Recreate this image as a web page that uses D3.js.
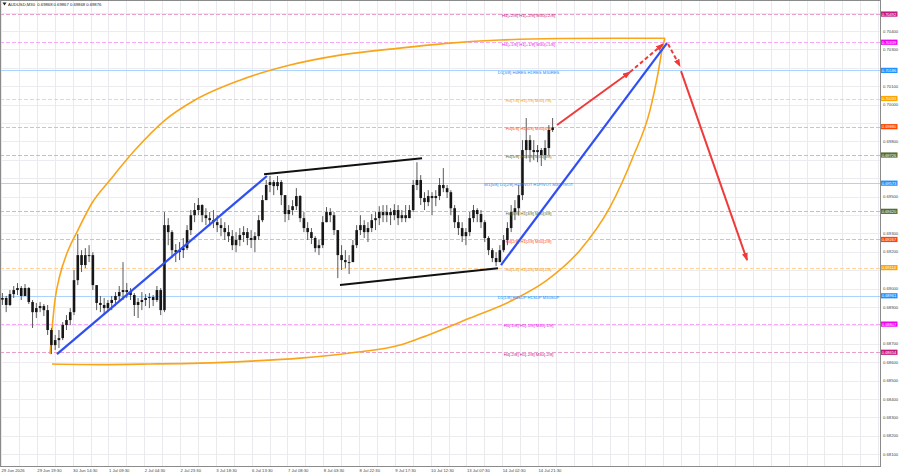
<!DOCTYPE html>
<html><head><meta charset="utf-8">
<script src="https://cdn.jsdelivr.net/npm/d3@7"></script>
<style>
html,body{margin:0;padding:0;background:#fff;}
svg{display:block;font-family:"Liberation Sans",Arial,sans-serif;}
</style></head><body>
<svg id="chart" width="900" height="474"></svg>
<script>
// ---------------- DATA ----------------
const chartTitle = "AUDUSD,M30  0.69868 0.69867 0.69868 0.69876";
const barsPerCandle = 4;          // each drawn candle groups 4 M30 bars
const firstOpen = 0.68940;
const candleHigh = [0.68976,0.68960,0.68992,0.69014,0.69030,0.69014,0.69025,0.69008,0.68938,0.68922,0.68927,0.68916,0.68911,0.68786,0.68748,0.68775,0.68818,0.68856,0.68894,0.69101,0.69296,0.69209,0.69220,0.69236,0.69198,0.69019,0.68960,0.68949,0.68938,0.68960,0.68981,0.69014,0.69144,0.69030,0.69003,0.68976,0.68949,0.68981,0.68970,0.68976,0.68965,0.69014,0.69003,0.69416,0.69383,0.69318,0.69242,0.69253,0.69275,0.69345,0.69427,0.69465,0.69492,0.69459,0.69437,0.69416,0.69427,0.69399,0.69383,0.69361,0.69345,0.69318,0.69307,0.69329,0.69339,0.69329,0.69318,0.69307,0.69399,0.69508,0.69590,0.69612,0.69590,0.69612,0.69590,0.69508,0.69454,0.69481,0.69546,0.69508,0.69416,0.69361,0.69329,0.69285,0.69264,0.69394,0.69443,0.69437,0.69416,0.69318,0.69236,0.69209,0.69182,0.69264,0.69345,0.69399,0.69372,0.69361,0.69405,0.69416,0.69448,0.69454,0.69454,0.69437,0.69459,0.69454,0.69427,0.69454,0.69454,0.69590,0.69687,0.69617,0.69524,0.69535,0.69524,0.69535,0.69601,0.69655,0.69563,0.69535,0.69454,0.69399,0.69361,0.69329,0.69416,0.69454,0.69437,0.69427,0.69372,0.69285,0.69220,0.69198,0.69236,0.69291,0.69361,0.69454,0.69481,0.69563,0.69807,0.69927,0.69834,0.69807,0.69780,0.69764,0.69807,0.69889,0.69927];
const candleLow = [0.68911,0.68872,0.68905,0.68949,0.68965,0.68938,0.68960,0.68916,0.68786,0.68840,0.68872,0.68851,0.68748,0.68644,0.68666,0.68677,0.68720,0.68775,0.68802,0.68856,0.69019,0.69090,0.69111,0.69144,0.68992,0.68883,0.68872,0.68856,0.68872,0.68883,0.68905,0.68927,0.68938,0.68949,0.68938,0.68851,0.68840,0.68883,0.68905,0.68894,0.68905,0.68927,0.68856,0.68872,0.69236,0.69166,0.69144,0.69155,0.69166,0.69209,0.69291,0.69361,0.69399,0.69361,0.69345,0.69339,0.69329,0.69307,0.69285,0.69264,0.69253,0.69209,0.69198,0.69231,0.69253,0.69236,0.69220,0.69198,0.69264,0.69361,0.69481,0.69524,0.69508,0.69535,0.69454,0.69361,0.69372,0.69399,0.69427,0.69361,0.69307,0.69264,0.69242,0.69198,0.69182,0.69220,0.69361,0.69361,0.69291,0.69057,0.69101,0.69111,0.69079,0.69144,0.69220,0.69291,0.69275,0.69253,0.69307,0.69318,0.69345,0.69361,0.69361,0.69345,0.69372,0.69345,0.69361,0.69361,0.69383,0.69416,0.69535,0.69454,0.69427,0.69448,0.69399,0.69448,0.69481,0.69524,0.69492,0.69399,0.69329,0.69291,0.69253,0.69236,0.69285,0.69361,0.69361,0.69329,0.69253,0.69182,0.69144,0.69122,0.69144,0.69198,0.69236,0.69307,0.69372,0.69399,0.69481,0.69709,0.69687,0.69698,0.69687,0.69666,0.69698,0.69726,0.69851];
const candleClose = [0.68949,0.68911,0.68970,0.68992,0.69003,0.68960,0.69003,0.68927,0.68872,0.68894,0.68905,0.68883,0.68775,0.68693,0.68720,0.68731,0.68802,0.68829,0.68872,0.69046,0.69182,0.69128,0.69182,0.69182,0.69019,0.68922,0.68911,0.68894,0.68922,0.68938,0.68960,0.68981,0.68992,0.68981,0.68965,0.68911,0.68927,0.68938,0.68949,0.68954,0.68938,0.68992,0.68883,0.69345,0.69307,0.69209,0.69198,0.69209,0.69220,0.69318,0.69399,0.69427,0.69454,0.69399,0.69383,0.69372,0.69361,0.69345,0.69329,0.69307,0.69285,0.69236,0.69264,0.69291,0.69307,0.69275,0.69264,0.69285,0.69372,0.69481,0.69563,0.69579,0.69557,0.69579,0.69508,0.69405,0.69427,0.69448,0.69503,0.69383,0.69329,0.69307,0.69275,0.69220,0.69236,0.69361,0.69416,0.69399,0.69318,0.69182,0.69155,0.69144,0.69144,0.69236,0.69318,0.69345,0.69307,0.69329,0.69372,0.69383,0.69416,0.69399,0.69416,0.69399,0.69427,0.69383,0.69399,0.69383,0.69427,0.69563,0.69590,0.69492,0.69470,0.69503,0.69492,0.69503,0.69563,0.69546,0.69524,0.69437,0.69361,0.69329,0.69285,0.69307,0.69383,0.69427,0.69405,0.69361,0.69275,0.69209,0.69166,0.69144,0.69209,0.69264,0.69329,0.69416,0.69437,0.69508,0.69753,0.69807,0.69753,0.69742,0.69753,0.69726,0.69764,0.69862,0.69876];

const timeTickBars = [0,38,76,114,152,190,228,266,304,342,380,418,456,494,532,570];
const timeTickLabels = ["29 Jun 2026","29 Jun 19:30","30 Jun 14:30","1 Jul 09:30","2 Jul 04:30","2 Jul 23:30","3 Jul 18:30","6 Jul 13:30","7 Jul 08:30","8 Jul 03:30","8 Jul 22:30","9 Jul 17:30","10 Jul 12:30","13 Jul 07:30","14 Jul 02:30","14 Jul 21:30"];
const priceTicks = [0.681,0.682,0.683,0.684,0.685,0.686,0.687,0.688,0.689,0.690,0.691,0.692,0.693,0.694,0.695,0.696,0.697,0.698,0.699,0.700,0.701,0.702,0.703,0.704,0.705];

const levelPrices = [0.70492,0.70339,0.70186,0.70033,0.69880,0.69726,0.69573,0.69420,0.69267,0.69114,0.68961,0.68807,0.68654];
const levelLabels = ["H4[+2/8] H1[+2/8] M30[+2/8]","H4[+1/8] H1[+1/8] M30[+1/8]","D1[3/8] H4RES H1RES M30RES","H4[7/8] H1[7/8] M30[7/8]","H4[6/8] H1[6/8] M30[6/8]","H4[5/8] H1[5/8] M30[5/8]","W1[5/8] D1[2/8] H4PIVOT H1PIVOT M30PIVOT","H4[3/8] H1[3/8] M30[3/8]","H4[2/8] H1[2/8] M30[2/8]","H4[1/8] H1[1/8] M30[1/8]","D1[1/8] H4SUP H1SUP M30SUP","H4[-1/8] H1[-1/8] M30[-1/8]","H4[-2/8] H1[-2/8] M30[-2/8]"];
const levelKinds = ["p2","p1","pv","o","r","g","pv","g","r","o","pv","p1","p2"];

// orange arc (two branches), points as [bar index, price]
const arcUpperBars   = [52.0,54.1,57.3,62.6,70.1,81.7,96.6,115.7,142.2,174.1,205.9,253.7,306.8,359.8,423.5,476.6,529.7,593.4,657.0,704.8];
const arcUpperPrices = [0.68644,0.68775,0.68938,0.69074,0.69193,0.69318,0.69465,0.69590,0.69753,0.69916,0.70025,0.70133,0.70215,0.70269,0.70307,0.70334,0.70351,0.70359,0.70361,0.70361];
const arcLowerBars   = [54.1,105.1,158.2,211.2,264.3,317.4,370.4,423.5,444.7,497.8,543.5,579.6,614.6,646.4,670.8,688.9,697.4,702.7,704.8];
const arcLowerPrices = [0.68590,0.68587,0.68590,0.68595,0.68606,0.68622,0.68650,0.68693,0.68731,0.68840,0.68938,0.69046,0.69209,0.69443,0.69715,0.69970,0.70171,0.70323,0.70361];

// trend lines: [startBar, endBar] and [startPrice, endPrice]
const blueLineBars   = [[59.4,282.3],[530.7,706.9]];
const blueLinePrices = [[0.68644,0.69612],[0.69128,0.70334]];
const blackLineBars   = [[279.2,446.9],[359.8,527.5]];
const blackLinePrices = [[0.69622,0.69709],[0.69019,0.69111]];
const redArrowBars   = [[590.2,667.7],[667.7,702.7],[708.0,720.7],[721.8,791.9]];
const redArrowPrices = [[0.69889,0.70177],[0.70177,0.70329],[0.70329,0.70209],[0.70182,0.69155]];
const redArrowDashed = [false,true,true,false];

// ---------------- STYLES / LAYOUT ----------------
const W = 900, H = 474;
const plotRight = 880, plotBottom = 466.5;
const kindText = {p2:"#c2187f",p1:"#e815e8",pv:"#1e88f0",o:"#f5a01a",r:"#ff4a1a",g:"#5a6b30"};
const kindLine = {p2:"#e6a0cc",p1:"#f5a8f5",pv:"#a8d4ff",o:"#ffd49a",r:"#ffb0a0",g:"#c4c4a6"};
const kindTag  = {p2:"#c2187f",p1:"#f000f0",pv:"#1e90ff",o:"#ffa500",r:"#ff4500",g:"#556b2f"};
const FS = 4.2;

const svg = d3.select("#chart");
const x = d3.scaleLinear().domain([0, 933]).range([1, plotRight]);
const y = d3.scaleLinear().domain([0.681, 0.704]).range([454.2, 31]);
const fmt = d3.format(".5f");

svg.append("rect").attr("width", W).attr("height", H).attr("fill", "#fff");
const defs = svg.append("defs");
defs.append("clipPath").attr("id","plotclip").append("rect")
  .attr("x",0).attr("y",0).attr("width",plotRight).attr("height",plotBottom);
defs.append("marker").attr("id","arrowRed")
  .attr("viewBox","0 0 8 6").attr("refX",7).attr("refY",3)
  .attr("markerWidth",8).attr("markerHeight",6)
  .attr("markerUnits","userSpaceOnUse").attr("orient","auto")
  .append("path").attr("d","M0,0 L8,3 L0,6 Z").attr("fill","#f03a3a");

const plot = svg.append("g").attr("clip-path","url(#plotclip)");

// grid
const gridBars = d3.range(0, 933, 19);
plot.append("g").selectAll("line").data(gridBars).join("line")
  .attr("x1", d => Math.round(x(d)) + 0.5).attr("x2", d => Math.round(x(d)) + 0.5)
  .attr("y1", 0).attr("y2", plotBottom)
  .attr("stroke", "#e9e9ee").attr("stroke-width", 1);
plot.append("g").selectAll("line").data(priceTicks).join("line")
  .attr("x1", 0).attr("x2", plotRight)
  .attr("y1", d => Math.round(y(d)) + 0.5).attr("y2", d => Math.round(y(d)) + 0.5)
  .attr("stroke", "#ececf0").attr("stroke-width", 1);

// level lines
const levels = levelPrices.map((p,i) => ({p, label: levelLabels[i], kind: levelKinds[i]}));
plot.append("g").selectAll("line").data(levels).join("line")
  .attr("x1", 0).attr("x2", plotRight)
  .attr("y1", d => Math.round(y(d.p)) + 0.5).attr("y2", d => Math.round(y(d.p)) + 0.5)
  .attr("stroke", d => kindLine[d.kind]).attr("stroke-width", 1)
  .attr("stroke-dasharray", d => d.kind === "pv" ? null : "4,2");

// orange arc
const lineGen = d3.line().x(d => x(d[0])).y(d => y(d[1])).curve(d3.curveMonotoneX);
const upperPts = arcUpperBars.map((b,i) => [b, arcUpperPrices[i]]);
const lowerPts = arcLowerBars.map((b,i) => [b, arcLowerPrices[i]]);
plot.append("path").attr("d", lineGen(upperPts)).attr("fill","none")
  .attr("stroke","#f9a51a").attr("stroke-width",1.6);
plot.append("path").attr("d", lineGen(lowerPts)).attr("fill","none")
  .attr("stroke","#f9a51a").attr("stroke-width",1.6);

// candles
const candles = candleClose.map((c,i) => ({
  bar: i*barsPerCandle + (barsPerCandle-1)/2,
  o: i === 0 ? firstOpen : candleClose[i-1],
  h: candleHigh[i], l: candleLow[i], c
}));
const cg = plot.append("g");
cg.selectAll("line").data(candles).join("line")
  .attr("x1", d => x(d.bar)).attr("x2", d => x(d.bar))
  .attr("y1", d => y(d.h)).attr("y2", d => y(d.l))
  .attr("stroke", "#5a5a5a").attr("stroke-width", 1);
cg.selectAll("rect").data(candles).join("rect")
  .attr("x", d => x(d.bar) - 1.3).attr("width", 2.6)
  .attr("y", d => Math.min(y(d.o), y(d.c)))
  .attr("height", d => Math.max(1, Math.abs(y(d.o) - y(d.c))))
  .attr("fill", "#161616");

// level text labels
plot.append("g").selectAll("text").data(levels).join("text")
  .attr("x", x(560)).attr("y", d => y(d.p) + 3.3)
  .attr("text-anchor","middle").attr("font-size", FS)
  .attr("fill", d => kindText[d.kind]).text(d => d.label);

// trend lines
const segs = (bars, prices) => bars.map((b,i) => ({x1:b[0], x2:b[1], p1:prices[i][0], p2:prices[i][1]}));
plot.append("g").selectAll("line").data(segs(blackLineBars, blackLinePrices)).join("line")
  .attr("x1", d => x(d.x1)).attr("x2", d => x(d.x2))
  .attr("y1", d => y(d.p1)).attr("y2", d => y(d.p2))
  .attr("stroke","#111").attr("stroke-width",2);
plot.append("g").selectAll("line").data(segs(blueLineBars, blueLinePrices)).join("line")
  .attr("x1", d => x(d.x1)).attr("x2", d => x(d.x2))
  .attr("y1", d => y(d.p1)).attr("y2", d => y(d.p2))
  .attr("stroke","#2f4ff2").attr("stroke-width",2.2);
plot.append("g").selectAll("line")
  .data(segs(redArrowBars, redArrowPrices).map((d,i) => ({...d, dashed: redArrowDashed[i]}))).join("line")
  .attr("x1", d => x(d.x1)).attr("x2", d => x(d.x2))
  .attr("y1", d => y(d.p1)).attr("y2", d => y(d.p2))
  .attr("stroke","#f03a3a").attr("stroke-width",2)
  .attr("stroke-dasharray", d => d.dashed ? "4,2.5" : null)
  .attr("marker-end","url(#arrowRed)");

// frame
svg.append("rect").attr("x",0.5).attr("y",0.5).attr("width",plotRight).attr("height",plotBottom - 0.5)
  .attr("fill","none").attr("stroke","#8a8a8a").attr("stroke-width",1);

// header
svg.append("path").attr("d","M2.5,2.5 L6.5,2.5 L4.5,5.5 Z").attr("fill","#222");
svg.append("text").attr("x",8).attr("y",5.6).attr("font-size",FS).attr("fill","#222")
  .attr("xml:space","preserve").text(chartTitle);

// price axis labels (hidden where a level tag covers them)
const tagYs = levelPrices.map(p => y(p));
const visibleTicks = priceTicks.filter(p => y(p) > 3 && y(p) < plotBottom && tagYs.every(t => Math.abs(t - y(p)) > 5.5));
svg.append("g").selectAll("text").data(visibleTicks).join("text")
  .attr("x", 883).attr("y", d => y(d) + 1.6)
  .attr("font-size", FS).attr("fill","#444").text(d => fmt(d));

// price tags for levels
const tags = svg.append("g");
tags.selectAll("rect").data(levels).join("rect")
  .attr("x", 881).attr("y", d => y(d.p) - 2.6).attr("width", 16.5).attr("height", 5.2)
  .attr("fill", d => kindTag[d.kind]);
tags.selectAll("text").data(levels).join("text")
  .attr("x", 881.8).attr("y", d => y(d.p) + 1.5)
  .attr("font-size", FS - 0.2).attr("fill","#fff").text(d => fmt(d.p));

// time axis labels
svg.append("g").selectAll("text").data(timeTickBars).join("text")
  .attr("x", d => x(d) + 0.5).attr("y", 472)
  .attr("font-size", FS).attr("fill","#444").text((d,i) => timeTickLabels[i]);
</script>
</body></html>
